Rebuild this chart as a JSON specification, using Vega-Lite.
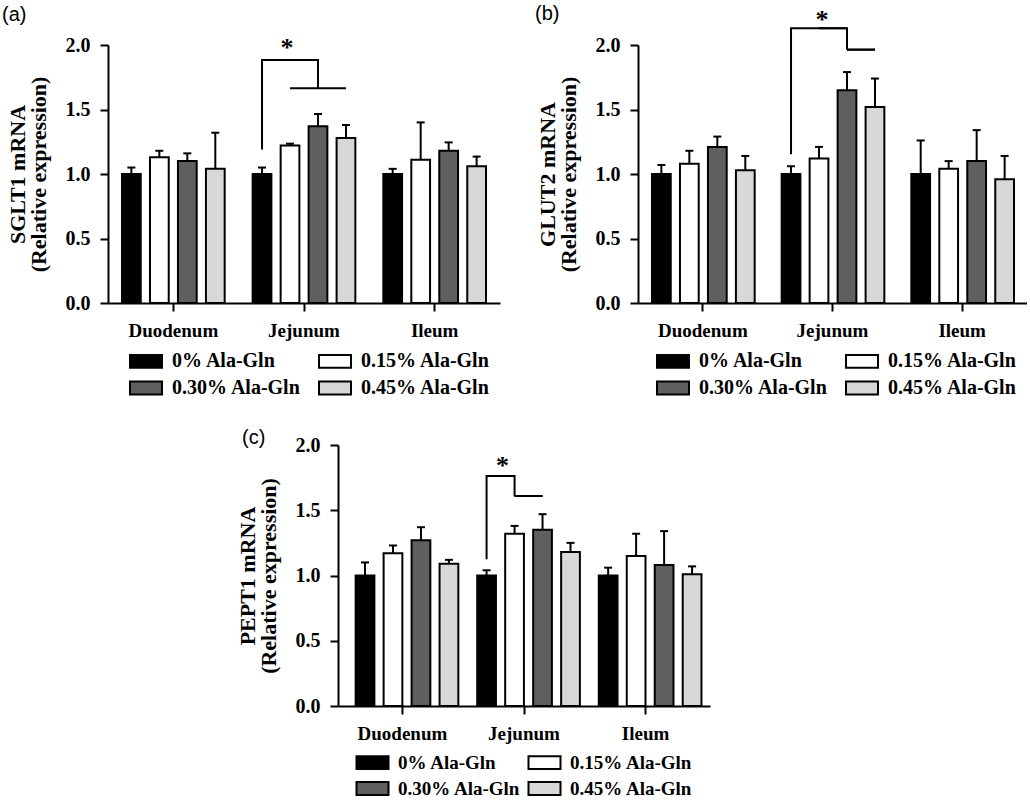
{
"$schema": "https://vega.github.io/schema/vega-lite/v6.json",
"background": "white",
"padding": {"left": 2, "top": 3, "right": 0, "bottom": 0},
"datasets": {
"a": [
{"tissue":"Duodenum","group":"0% Ala-Gln","mean":1.00,"upper":1.05},
{"tissue":"Duodenum","group":"0.15% Ala-Gln","mean":1.13,"upper":1.18},
{"tissue":"Duodenum","group":"0.30% Ala-Gln","mean":1.10,"upper":1.16},
{"tissue":"Duodenum","group":"0.45% Ala-Gln","mean":1.04,"upper":1.32},
{"tissue":"Jejunum","group":"0% Ala-Gln","mean":1.00,"upper":1.05},
{"tissue":"Jejunum","group":"0.15% Ala-Gln","mean":1.22,"upper":1.235},
{"tissue":"Jejunum","group":"0.30% Ala-Gln","mean":1.37,"upper":1.465},
{"tissue":"Jejunum","group":"0.45% Ala-Gln","mean":1.28,"upper":1.38},
{"tissue":"Ileum","group":"0% Ala-Gln","mean":1.00,"upper":1.04},
{"tissue":"Ileum","group":"0.15% Ala-Gln","mean":1.11,"upper":1.40},
{"tissue":"Ileum","group":"0.30% Ala-Gln","mean":1.18,"upper":1.245},
{"tissue":"Ileum","group":"0.45% Ala-Gln","mean":1.06,"upper":1.135}
],
"b": [
{"tissue":"Duodenum","group":"0% Ala-Gln","mean":1.00,"upper":1.07},
{"tissue":"Duodenum","group":"0.15% Ala-Gln","mean":1.08,"upper":1.18},
{"tissue":"Duodenum","group":"0.30% Ala-Gln","mean":1.21,"upper":1.29},
{"tissue":"Duodenum","group":"0.45% Ala-Gln","mean":1.03,"upper":1.14},
{"tissue":"Jejunum","group":"0% Ala-Gln","mean":1.00,"upper":1.06},
{"tissue":"Jejunum","group":"0.15% Ala-Gln","mean":1.12,"upper":1.21},
{"tissue":"Jejunum","group":"0.30% Ala-Gln","mean":1.65,"upper":1.79},
{"tissue":"Jejunum","group":"0.45% Ala-Gln","mean":1.52,"upper":1.74},
{"tissue":"Ileum","group":"0% Ala-Gln","mean":1.00,"upper":1.26},
{"tissue":"Ileum","group":"0.15% Ala-Gln","mean":1.04,"upper":1.10},
{"tissue":"Ileum","group":"0.30% Ala-Gln","mean":1.10,"upper":1.34},
{"tissue":"Ileum","group":"0.45% Ala-Gln","mean":0.96,"upper":1.14}
],
"c": [
{"tissue":"Duodenum","group":"0% Ala-Gln","mean":1.00,"upper":1.10},
{"tissue":"Duodenum","group":"0.15% Ala-Gln","mean":1.17,"upper":1.23},
{"tissue":"Duodenum","group":"0.30% Ala-Gln","mean":1.27,"upper":1.37},
{"tissue":"Duodenum","group":"0.45% Ala-Gln","mean":1.09,"upper":1.12},
{"tissue":"Jejunum","group":"0% Ala-Gln","mean":1.00,"upper":1.04},
{"tissue":"Jejunum","group":"0.15% Ala-Gln","mean":1.32,"upper":1.38},
{"tissue":"Jejunum","group":"0.30% Ala-Gln","mean":1.35,"upper":1.47},
{"tissue":"Jejunum","group":"0.45% Ala-Gln","mean":1.18,"upper":1.25},
{"tissue":"Ileum","group":"0% Ala-Gln","mean":1.00,"upper":1.06},
{"tissue":"Ileum","group":"0.15% Ala-Gln","mean":1.15,"upper":1.32},
{"tissue":"Ileum","group":"0.30% Ala-Gln","mean":1.08,"upper":1.34},
{"tissue":"Ileum","group":"0.45% Ala-Gln","mean":1.01,"upper":1.07}
],
"a_br": [
{"tissue":"Jejunum","group":"0% Ala-Gln","y":1.19,"seg":"s1","ord":1},
{"tissue":"Jejunum","group":"0% Ala-Gln","y":1.884,"seg":"s1","ord":2},
{"tissue":"Jejunum","group":"0.30% Ala-Gln","y":1.884,"seg":"s1","ord":3},
{"tissue":"Jejunum","group":"0.30% Ala-Gln","y":1.665,"seg":"s1","ord":4},
{"tissue":"Jejunum","group":"0.15% Ala-Gln","y":1.665,"seg":"s2","ord":1},
{"tissue":"Jejunum","group":"0.45% Ala-Gln","y":1.665,"seg":"s2","ord":2}
],
"b_br": [
{"tissue":"Jejunum","group":"0% Ala-Gln","y":1.153,"seg":"s1","ord":1,"shift":0},
{"tissue":"Jejunum","group":"0% Ala-Gln","y":2.13,"seg":"s1","ord":2,"shift":0},
{"tissue":"Jejunum","group":"0.30% Ala-Gln","y":2.13,"seg":"s1","ord":3,"shift":0},
{"tissue":"Jejunum","group":"0.15% Ala-Gln","y":2.13,"seg":"s3","ord":1,"shift":1},
{"tissue":"Jejunum","group":"0.30% Ala-Gln","y":2.13,"seg":"s3","ord":2,"shift":1},
{"tissue":"Jejunum","group":"0.30% Ala-Gln","y":1.964,"seg":"s3","ord":3,"shift":1},
{"tissue":"Jejunum","group":"0.30% Ala-Gln","y":1.964,"seg":"s2","ord":1,"shift":2},
{"tissue":"Jejunum","group":"0.45% Ala-Gln","y":1.964,"seg":"s2","ord":2,"shift":2}
],
"c_br": [
{"tissue":"Jejunum","group":"0% Ala-Gln","y":1.124,"seg":"s1","ord":1,"shift":0},
{"tissue":"Jejunum","group":"0% Ala-Gln","y":1.762,"seg":"s1","ord":2,"shift":0},
{"tissue":"Jejunum","group":"0.15% Ala-Gln","y":1.762,"seg":"s1","ord":3,"shift":0},
{"tissue":"Jejunum","group":"0% Ala-Gln","y":1.762,"seg":"s3","ord":1,"shift":1},
{"tissue":"Jejunum","group":"0.15% Ala-Gln","y":1.762,"seg":"s3","ord":2,"shift":1},
{"tissue":"Jejunum","group":"0.15% Ala-Gln","y":1.609,"seg":"s3","ord":3,"shift":1},
{"tissue":"Jejunum","group":"0.15% Ala-Gln","y":1.609,"seg":"s2","ord":1,"shift":2},
{"tissue":"Jejunum","group":"0.30% Ala-Gln","y":1.609,"seg":"s2","ord":2,"shift":2}
],
"star_a": [{"tissue":"Jejunum","group":"0.15% Ala-Gln","y":2.015}],
"star_b": [{"tissue":"Jejunum","group":"0.15% Ala-Gln","y":2.235}],
"star_c": [{"tissue":"Jejunum","group":"0.15% Ala-Gln","y":1.877}]
},
"resolve": {"scale": {"fill": "independent"}, "legend": {"fill": "independent"}},
"spacing": 29,
"vconcat": [
{
"resolve": {"scale": {"fill": "independent"}, "legend": {"fill": "independent"}},
"spacing": 35,
"hconcat": [
{
"title": {"text": "(a)", "dx": -106, "offset": 10},
"width": 392, "height": 258,
"encoding": {
"x": {"field": "tissue", "type": "nominal", "sort": ["Duodenum","Jejunum","Ileum"], "scale": {"domain": ["Duodenum","Jejunum","Ileum"], "paddingInner": 0, "paddingOuter": 0}, "axis": {"title": null}},
"xOffset": {"field": "group", "type": "nominal", "sort": ["0% Ala-Gln","0.15% Ala-Gln","0.30% Ala-Gln","0.45% Ala-Gln"], "scale": {"domain": ["0% Ala-Gln","0.15% Ala-Gln","0.30% Ala-Gln","0.45% Ala-Gln"], "paddingInner": 0.33, "paddingOuter": 0.5}}
},
"layer": [
{"data": {"name": "a"}, "mark": {"type": "bar", "stroke": "black", "strokeWidth": 2},
 "encoding": {
  "y": {"field": "mean", "type": "quantitative", "scale": {"domain": [0, 2], "nice": false}, "axis": {"title": ["SGLT1 mRNA", "(Relative expression)"], "values": [0, 0.5, 1, 1.5, 2], "format": ".1f"}},
  "fill": {"field": "group", "type": "nominal", "scale": {"domain": ["0% Ala-Gln","0.15% Ala-Gln","0.30% Ala-Gln","0.45% Ala-Gln"], "range": ["#000000","#ffffff","#5f5f5f","#d8d8d8"]}, "legend": {"legendX": 28, "legendY": 306}}
 }},
{"data": {"name": "a"}, "mark": {"type": "rule", "strokeWidth": 2, "color": "black"}, "encoding": {"y": {"field": "mean", "type": "quantitative"}, "y2": {"field": "upper"}}},
{"data": {"name": "a"}, "mark": {"type": "tick", "thickness": 2, "size": 8, "color": "black", "opacity": 1}, "encoding": {"y": {"field": "upper", "type": "quantitative"}}},
{"data": {"name": "a_br"}, "mark": {"type": "line", "stroke": "black", "strokeWidth": 2, "strokeJoin": "miter"}, "encoding": {"y": {"field": "y", "type": "quantitative"}, "detail": {"field": "seg"}, "order": {"field": "ord", "type": "quantitative"}}},
{"data": {"name": "star_a"}, "mark": {"type": "text", "text": "*", "fontSize": 26, "fontWeight": "bold", "baseline": "middle", "dy": 5, "dx": -3}, "encoding": {"y": {"field": "y", "type": "quantitative"}}}
]
},
{
"title": {"text": "(b)", "dx": -103, "offset": -17},
"width": 389, "height": 258,
"encoding": {
"x": {"field": "tissue", "type": "nominal", "sort": ["Duodenum","Jejunum","Ileum"], "scale": {"domain": ["Duodenum","Jejunum","Ileum"], "paddingInner": 0, "paddingOuter": 0}, "axis": {"title": null}},
"xOffset": {"field": "group", "type": "nominal", "sort": ["0% Ala-Gln","0.15% Ala-Gln","0.30% Ala-Gln","0.45% Ala-Gln"], "scale": {"domain": ["0% Ala-Gln","0.15% Ala-Gln","0.30% Ala-Gln","0.45% Ala-Gln"], "paddingInner": 0.33, "paddingOuter": 0.5}}
},
"layer": [
{"data": {"name": "b"}, "mark": {"type": "bar", "stroke": "black", "strokeWidth": 2},
 "encoding": {
  "y": {"field": "mean", "type": "quantitative", "scale": {"domain": [0, 2], "nice": false}, "axis": {"title": ["GLUT2 mRNA", "(Relative expression)"], "values": [0, 0.5, 1, 1.5, 2], "format": ".1f"}},
  "fill": {"field": "group", "type": "nominal", "scale": {"domain": ["0% Ala-Gln","0.15% Ala-Gln","0.30% Ala-Gln","0.45% Ala-Gln"], "range": ["#000000","#ffffff","#5f5f5f","#d8d8d8"]}, "legend": {"legendX": 25, "legendY": 306}}
 }},
{"data": {"name": "b"}, "mark": {"type": "rule", "strokeWidth": 2, "color": "black"}, "encoding": {"y": {"field": "mean", "type": "quantitative"}, "y2": {"field": "upper"}}},
{"data": {"name": "b"}, "mark": {"type": "tick", "thickness": 2, "size": 8, "color": "black", "opacity": 1}, "encoding": {"y": {"field": "upper", "type": "quantitative"}}},
{"data": {"name": "b_br"}, "transform": [{"filter": "datum.shift == 0"}], "mark": {"type": "line", "stroke": "black", "strokeWidth": 2, "strokeJoin": "miter"}, "encoding": {"y": {"field": "y", "type": "quantitative"}, "detail": {"field": "seg"}, "order": {"field": "ord", "type": "quantitative"}}},
{"data": {"name": "b_br"}, "transform": [{"filter": "datum.shift == 1"}], "mark": {"type": "line", "stroke": "black", "strokeWidth": 2, "strokeJoin": "miter", "xOffset": 14}, "encoding": {"y": {"field": "y", "type": "quantitative"}, "detail": {"field": "seg"}, "order": {"field": "ord", "type": "quantitative"}}},
{"data": {"name": "b_br"}, "transform": [{"filter": "datum.shift == 2"}], "mark": {"type": "line", "stroke": "black", "strokeWidth": 2, "xOffset": -5}, "encoding": {"y": {"field": "y", "type": "quantitative"}, "detail": {"field": "seg"}, "order": {"field": "ord", "type": "quantitative"}}},
{"data": {"name": "b_br"}, "transform": [{"filter": "datum.shift == 2"}], "mark": {"type": "line", "stroke": "black", "strokeWidth": 2, "xOffset": 8}, "encoding": {"y": {"field": "y", "type": "quantitative"}, "detail": {"field": "seg"}, "order": {"field": "ord", "type": "quantitative"}}},
{"data": {"name": "star_b"}, "mark": {"type": "text", "text": "*", "fontSize": 26, "fontWeight": "bold", "baseline": "middle", "dy": 5, "dx": 3}, "encoding": {"y": {"field": "y", "type": "quantitative"}}}
]
}
]
},
{
"resolve": {"scale": {"fill": "independent"}, "legend": {"fill": "independent"}},
"spacing": 20,
"hconcat": [
{"width": 108, "height": 10, "data": {"values": [{"t": ""}]}, "mark": {"type": "text"}, "encoding": {"text": {"field": "t"}}},
{
"title": {"text": "(c)", "dx": -96, "offset": -13},
"width": 372, "height": 261,
"encoding": {
"x": {"field": "tissue", "type": "nominal", "sort": ["Duodenum","Jejunum","Ileum"], "scale": {"domain": ["Duodenum","Jejunum","Ileum"], "paddingInner": 0, "paddingOuter": 0.03}, "axis": {"title": null}},
"xOffset": {"field": "group", "type": "nominal", "sort": ["0% Ala-Gln","0.15% Ala-Gln","0.30% Ala-Gln","0.45% Ala-Gln"], "scale": {"domain": ["0% Ala-Gln","0.15% Ala-Gln","0.30% Ala-Gln","0.45% Ala-Gln"], "paddingInner": 0.32, "paddingOuter": 0.465}}
},
"layer": [
{"data": {"name": "c"}, "mark": {"type": "bar", "stroke": "black", "strokeWidth": 2},
 "encoding": {
  "y": {"field": "mean", "type": "quantitative", "scale": {"domain": [0, 2], "nice": false}, "axis": {"title": ["PEPT1 mRNA", "(Relative expression)"], "values": [0, 0.5, 1, 1.5, 2], "format": ".1f"}},
  "fill": {"field": "group", "type": "nominal", "scale": {"domain": ["0% Ala-Gln","0.15% Ala-Gln","0.30% Ala-Gln","0.45% Ala-Gln"], "range": ["#000000","#ffffff","#5f5f5f","#d8d8d8"]}, "legend": {"legendX": 25, "legendY": 308, "labelFontSize": 19, "columnPadding": 3}}
 }},
{"data": {"name": "c"}, "mark": {"type": "rule", "strokeWidth": 2, "color": "black"}, "encoding": {"y": {"field": "mean", "type": "quantitative"}, "y2": {"field": "upper"}}},
{"data": {"name": "c"}, "mark": {"type": "tick", "thickness": 2, "size": 8, "color": "black", "opacity": 1}, "encoding": {"y": {"field": "upper", "type": "quantitative"}}},
{"data": {"name": "c_br"}, "transform": [{"filter": "datum.shift == 0"}], "mark": {"type": "line", "stroke": "black", "strokeWidth": 2, "strokeJoin": "miter"}, "encoding": {"y": {"field": "y", "type": "quantitative"}, "detail": {"field": "seg"}, "order": {"field": "ord", "type": "quantitative"}}},
{"data": {"name": "c_br"}, "transform": [{"filter": "datum.shift == 1"}], "mark": {"type": "line", "stroke": "black", "strokeWidth": 2, "strokeJoin": "miter", "xOffset": 13.2}, "encoding": {"y": {"field": "y", "type": "quantitative"}, "detail": {"field": "seg"}, "order": {"field": "ord", "type": "quantitative"}}},
{"data": {"name": "c_br"}, "transform": [{"filter": "datum.shift == 2"}], "mark": {"type": "line", "stroke": "black", "strokeWidth": 2, "xOffset": -8}, "encoding": {"y": {"field": "y", "type": "quantitative"}, "detail": {"field": "seg"}, "order": {"field": "ord", "type": "quantitative"}}},
{"data": {"name": "c_br"}, "transform": [{"filter": "datum.shift == 2"}], "mark": {"type": "line", "stroke": "black", "strokeWidth": 2, "xOffset": 5}, "encoding": {"y": {"field": "y", "type": "quantitative"}, "detail": {"field": "seg"}, "order": {"field": "ord", "type": "quantitative"}}},
{"data": {"name": "star_c"}, "mark": {"type": "text", "text": "*", "fontSize": 26, "fontWeight": "bold", "baseline": "middle", "dy": 5, "dx": -12}, "encoding": {"y": {"field": "y", "type": "quantitative"}}}
]
}
]
}
],
"config": {
"font": "Liberation Serif",
"view": {"stroke": null},
"axis": {"grid": false, "domainColor": "black", "domainWidth": 2, "tickColor": "black", "tickWidth": 2, "tickSize": 8, "labelFont": "Liberation Serif", "labelFontWeight": "bold", "labelColor": "black", "titleFont": "Liberation Serif", "titleFontWeight": "bold", "titleColor": "black", "titleFontSize": 22, "titleLineHeight": 21},
"axisY": {"labelFontSize": 20, "labelPadding": 10, "titlePadding": 15},
"axisX": {"labelAngle": 0, "labelFontSize": 19, "labelPadding": 10},
"legend": {"orient": "none", "direction": "horizontal", "columns": 2, "title": null, "symbolType": "M-2,-0.8H2V0.8H-2Z", "symbolSize": 256, "symbolStrokeColor": "black", "symbolStrokeWidth": 2, "symbolOpacity": 1, "labelFont": "Liberation Serif", "labelFontWeight": "bold", "labelFontSize": 20, "labelColor": "black", "columnPadding": 14, "rowPadding": 5, "labelOffset": 16, "labelLimit": 300},
"title": {"anchor": "start", "frame": "group", "font": "Liberation Sans", "fontSize": 20, "fontWeight": "normal", "color": "black"},
"text": {"font": "Liberation Serif", "color": "black"}
}
}
